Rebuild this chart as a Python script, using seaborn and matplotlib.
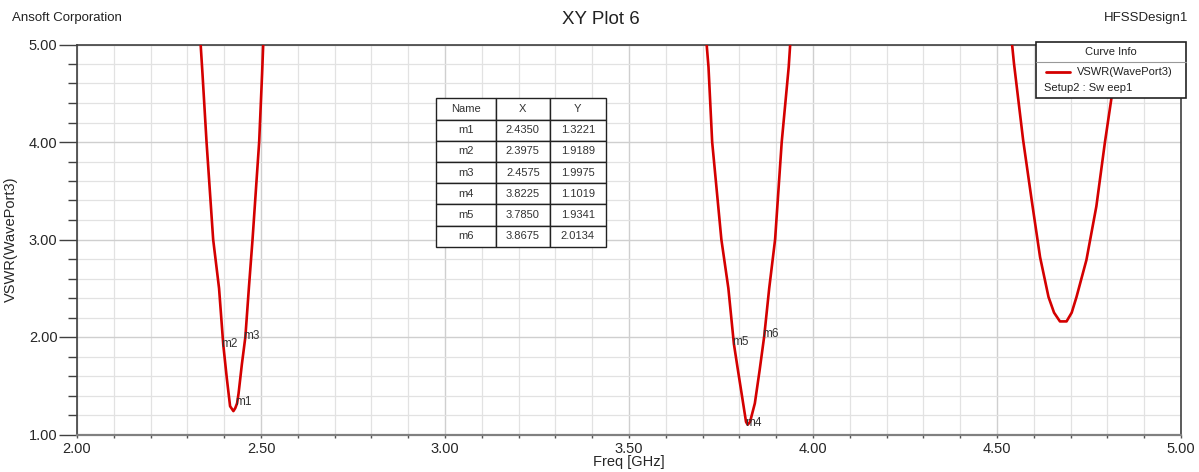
import pandas as pd
import matplotlib
matplotlib.use("Agg")
import matplotlib.pyplot as plt
import seaborn as sns
from matplotlib.ticker import MultipleLocator
from matplotlib.patches import Rectangle
from matplotlib.lines import Line2D

# curve, one list pair per resonance dip
freq_dip1 = [2.336, 2.341, 2.352, 2.370, 2.386, 2.3975, 2.407, 2.416, 2.425,
             2.430, 2.435, 2.439, 2.448, 2.4575, 2.467, 2.477, 2.495, 2.503, 2.506]
vswr_dip1 = [5.00, 4.70, 4.00, 3.00, 2.50, 1.92, 1.58, 1.29, 1.24,
             1.27, 1.32, 1.42, 1.72, 2.00, 2.50, 3.00, 4.00, 4.70, 5.00]

freq_dip2 = [3.711, 3.716, 3.726, 3.751, 3.770, 3.785, 3.796, 3.806, 3.818,
             3.8225, 3.829, 3.842, 3.855, 3.8675, 3.881, 3.897, 3.915, 3.934, 3.938]
vswr_dip2 = [5.00, 4.77, 4.00, 3.00, 2.50, 1.93, 1.66, 1.42, 1.13,
             1.10, 1.13, 1.32, 1.66, 2.01, 2.50, 3.00, 4.00, 4.77, 5.00]

freq_dip3 = [4.541, 4.546, 4.571, 4.594, 4.617, 4.640, 4.655, 4.671, 4.689,
             4.703, 4.716, 4.743, 4.770, 4.793, 4.811, 4.829]
vswr_dip3 = [5.00, 4.81, 4.02, 3.41, 2.82, 2.41, 2.25, 2.16, 2.16,
             2.25, 2.41, 2.79, 3.34, 3.99, 4.45, 5.00]

# marker table
marker_names = ["m1", "m2", "m3", "m4", "m5", "m6"]
marker_x = [2.4350, 2.3975, 2.4575, 3.8225, 3.7850, 3.8675]
marker_y = [1.3221, 1.9189, 1.9975, 1.1019, 1.9341, 2.0134]

x_ticks = [2.00, 2.50, 3.00, 3.50, 4.00, 4.50, 5.00]
y_ticks = [1.00, 2.00, 3.00, 4.00, 5.00]

curve_color = "#d40000"

df = pd.concat([
    pd.DataFrame({"freq": freq_dip1, "vswr": vswr_dip1, "dip": 1}),
    pd.DataFrame({"freq": freq_dip2, "vswr": vswr_dip2, "dip": 2}),
    pd.DataFrame({"freq": freq_dip3, "vswr": vswr_dip3, "dip": 3}),
])

sns.set_style("white")
plt.rcParams["font.family"] = ["Liberation Sans", "DejaVu Sans"]

fig = plt.figure(figsize=(11.99, 4.72), dpi=100)
ax = fig.add_axes([77 / 1199, 1 - 434.5 / 472, 1104 / 1199, 390 / 472])

sns.lineplot(data=df, x="freq", y="vswr", units="dip", estimator=None,
             sort=False, color=curve_color, linewidth=1.9, ax=ax, zorder=3)

ax.set_xlim(2.0, 5.0)
ax.set_ylim(1.0, 5.0)
ax.set_xticks(x_ticks)
ax.set_xticklabels([f"{v:.2f}" for v in x_ticks])
ax.set_yticks(y_ticks)
ax.set_yticklabels([f"{v:.2f}" for v in y_ticks])
ax.xaxis.set_minor_locator(MultipleLocator(0.1))
ax.yaxis.set_minor_locator(MultipleLocator(0.2))

ax.grid(which="major", color="#cfcfcf", linewidth=1.0)
ax.grid(which="minor", color="#e2e2e2", linewidth=0.9)
ax.set_axisbelow(True)

ax.tick_params(axis="y", which="major", direction="out", length=13, width=1,
               color="#404040", labelsize=10.5, pad=1, left=True)
ax.tick_params(axis="y", which="minor", direction="out", length=6.5, width=1,
               color="#404040", left=True)
ax.tick_params(axis="x", which="both", direction="out", length=2.5, width=1,
               color="#555555", labelsize=10.5, pad=3, bottom=True)

for side in ["top", "left", "right"]:
    ax.spines[side].set_color("#404040")
    ax.spines[side].set_linewidth(1.2)
ax.spines["bottom"].set_color("#808080")
ax.spines["bottom"].set_linewidth(1.6)

ax.set_xlabel("Freq [GHz]", fontsize=10.5, labelpad=-1)
ax.set_ylabel("VSWR(WavePort3)", fontsize=10.5, labelpad=8)

# marker labels
for name, mx, my in zip(marker_names, marker_x, marker_y):
    ax.annotate(name, (mx, my), xytext=(-1.5, 1), textcoords="offset points",
                ha="left", va="center", fontsize=8.5, color="#333333", zorder=4)

# marker table
cells = [[n, f"{x:.4f}", f"{y:.4f}"] for n, x, y in zip(marker_names, marker_x, marker_y)]
tbl = ax.table(cellText=cells, colLabels=["Name", "X", "Y"], cellLoc="center",
               colWidths=[60, 54, 56],
               bbox=[(436 - 77) / 1104, (434.5 - 246.7) / 390, 169.7 / 1104, 148.4 / 390])
tbl.auto_set_font_size(False)
tbl.set_fontsize(8)
for cell in tbl.get_celld().values():
    cell.set_edgecolor("#222222")
    cell.set_linewidth(1.0)
    cell.set_facecolor("white")
    cell.get_text().set_color("#333333")
tbl.set_zorder(5)

# curve info box (HFSS style legend)
W, H = 1199, 472
def fx(px):
    return px / W
def fy(py):
    return 1 - py / H

box = Rectangle((fx(1035.7), fy(98.3)), fx(1185.7) - fx(1035.7), fy(42.3) - fy(98.3),
                transform=fig.transFigure, facecolor="white", edgecolor="#222222",
                linewidth=1.2, zorder=10)
fig.patches.append(box)
fig.add_artist(Line2D([fx(1035.7), fx(1185.7)], [fy(62.3), fy(62.3)],
                      color="#999999", linewidth=0.8, zorder=11))
fig.add_artist(Line2D([fx(1045.7), fx(1070)], [fy(72.3), fy(72.3)],
                      color=curve_color, linewidth=2.0, zorder=11))
fig.text(fx(1110.7), fy(52.3), "Curve Info", ha="center", va="center",
         fontsize=8, color="#222222", zorder=12)
fig.text(fx(1077), fy(72.3), "VSWR(WavePort3)", ha="left", va="center",
         fontsize=8, color="#222222", zorder=12)
fig.text(fx(1044), fy(88.3), "Setup2 : Sw eep1", ha="left", va="center",
         fontsize=8, color="#222222", zorder=12)

# header texts
fig.text(fx(12), fy(18), "Ansoft Corporation", ha="left", va="center",
         fontsize=9.5, color="#222222")
fig.text(fx(601), fy(20), "XY Plot 6", ha="center", va="center",
         fontsize=13.5, color="#222222")
fig.text(fx(1188), fy(18), "HFSSDesign1", ha="right", va="center",
         fontsize=9.5, color="#222222")

fig.savefig("out.png", dpi=100, facecolor="white")
